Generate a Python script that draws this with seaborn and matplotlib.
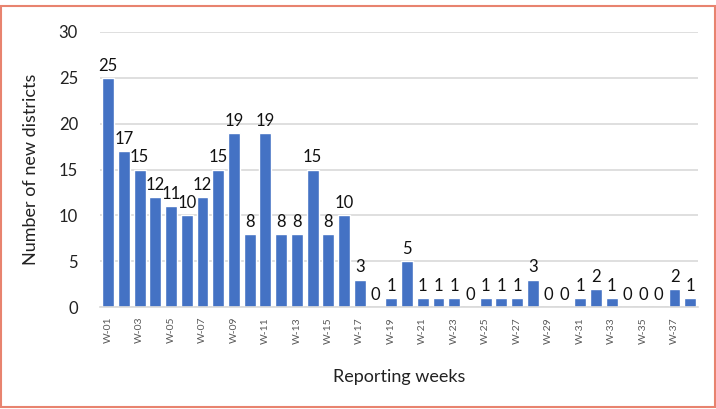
import matplotlib
matplotlib.use("Agg")
import matplotlib.pyplot as plt
import seaborn as sns
import pandas as pd
from matplotlib.patches import Rectangle

weeks = [f"W-{i:02d}" for i in range(1, 39)]
values = [25, 17, 15, 12, 11, 10, 12, 15, 19, 8, 19, 8, 8, 15, 8, 10, 3, 0, 1, 5,
          1, 1, 1, 0, 1, 1, 1, 3, 0, 0, 1, 2, 1, 0, 0, 0, 2, 1]
yticks = [0, 5, 10, 15, 20, 25, 30]

df = pd.DataFrame({"week": weeks, "value": values})

sns.set_theme(style="white")
plt.rcParams['font.family'] = ['Lato', 'DejaVu Sans']

fig = plt.figure(figsize=(7.16, 4.09), dpi=100)
ax = fig.add_axes([0.140, 0.249, 0.835, 0.673])

sns.barplot(data=df, x="week", y="value", color="#4472C4", saturation=1,
            width=0.76, ax=ax)

ax.set_ylim(0, 30)
ax.set_xlim(-0.5, len(weeks) - 0.5)
ax.set_yticks(yticks)
ax.set_yticklabels([str(t) for t in yticks], fontsize=12, color="#222222")
ax.yaxis.grid(True, color="#d9d9d9", linewidth=1.2)
ax.set_axisbelow(True)
for s in ["top", "right", "left"]:
    ax.spines[s].set_visible(False)
ax.spines["bottom"].set_color("#d9d9d9")
ax.spines["bottom"].set_linewidth(1.2)
ax.tick_params(axis="y", length=0, pad=16)

ax.set_xticks(range(0, len(weeks), 2))
ax.set_xticklabels(weeks[::2], rotation=90, fontsize=7.5, color="#595959")
ax.tick_params(axis="x", length=0, pad=7)

for c in ax.containers:
    ax.bar_label(c, labels=[str(v) for v in values], padding=3, fontsize=12,
                 color="#111111")

ax.set_xlabel("Reporting weeks", fontsize=13, color="#222222", labelpad=18)
ax.set_ylabel("Number of new districts", fontsize=13, color="#222222", labelpad=14)

fig.patches.append(Rectangle((0.002, 0.004), 0.996, 0.982, transform=fig.transFigure,
                             fill=False, edgecolor="#E8836F", linewidth=1.5))

fig.savefig("out.png", dpi=100)
